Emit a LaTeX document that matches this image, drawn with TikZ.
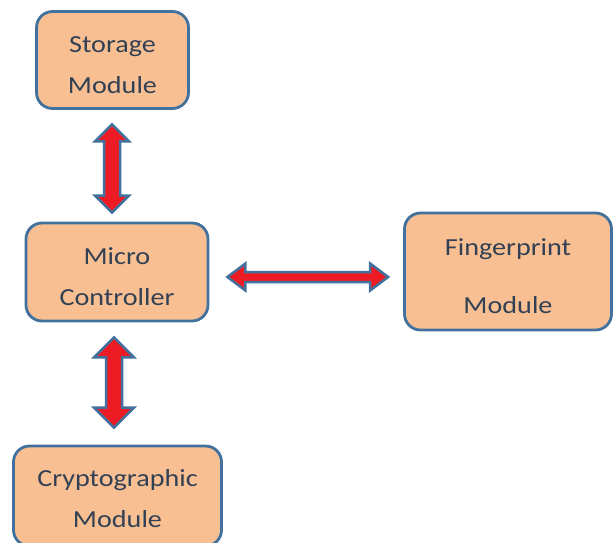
\documentclass[tikz,border=0pt]{standalone}
\usepackage{fontspec}
\setmainfont{Carlito}[FakeStretch=1.15]
\usetikzlibrary{calc}
\definecolor{boxfill}{RGB}{248,192,146}
\definecolor{boxline}{RGB}{65,113,156}
\definecolor{txt}{RGB}{50,64,84}
\definecolor{arrred}{RGB}{237,28,36}
\newcommand\vdbl[5]{% top, bottom, shaft half, head half, head length
 \draw[dblarr] let \p1=(#1), \p2=(#2) in
 (\x1,\y1) -- (\x1+#4pt,\y1-#5pt) -- (\x1+#3pt,\y1-#5pt) -- (\x1+#3pt,\y2+#5pt) -- (\x1+#4pt,\y2+#5pt) -- (\x1,\y2)
 -- (\x1-#4pt,\y2+#5pt) -- (\x1-#3pt,\y2+#5pt) -- (\x1-#3pt,\y1-#5pt) -- (\x1-#4pt,\y1-#5pt) -- cycle;}
\newcommand\hdbl[5]{% left, right, shaft half, head half, head length
 \draw[dblarr] let \p1=(#1), \p2=(#2) in
 (\x1,\y1) -- (\x1+#5pt,\y1+#4pt) -- (\x1+#5pt,\y1+#3pt) -- (\x2-#5pt,\y1+#3pt) -- (\x2-#5pt,\y1+#4pt) -- (\x2,\y1)
 -- (\x2-#5pt,\y1-#4pt) -- (\x2-#5pt,\y1-#3pt) -- (\x1+#5pt,\y1-#3pt) -- (\x1+#5pt,\y1-#4pt) -- cycle;}
\begin{document}
\begin{tikzpicture}[x=1pt,y=-1pt,
 box/.style={draw=boxline, line width=2.8pt, fill=boxfill, rounded corners=16pt, inner sep=0pt},
 lbl/.style={text=txt, align=center, inner sep=0pt, yshift=-5pt, font=\fontsize{24.5}{41}\selectfont},
 dblarr/.style={draw=boxline, line width=2.5pt, fill=arrred, line join=miter}]
\useasboundingbox (0,0) rectangle (614,542);
\begin{scope}
\clip (0,0) rectangle (614,542);
\node[box, minimum width=152pt, minimum height=97pt, label={[lbl]center:Storage\\Module}] (stor) at (112.5,60) {};
\node[box, minimum width=182pt, minimum height=98pt, label={[lbl]center:Micro\\Controller}] (mc) at (117,272) {};
\node[box, minimum width=207pt, minimum height=117pt, label={[lbl, font=\fontsize{24.5}{58}\selectfont]center:Fingerprint\\Module}] (fp) at (508,271.5) {};
\node[box, minimum width=208pt, minimum height=100pt, label={[lbl, yshift=2pt]center:Cryptographic\\Module}] (cr) at (117.5,496) {};
\coordinate (a1) at ($(stor.south)+(-0.5,14.5)$);
\coordinate (a2) at ($(mc.north)+(0,-9)$);
\coordinate (b1) at ($(mc.south)+(-3,15)$);
\coordinate (b2) at ($(cr.north)+(0,-17)$);
\coordinate (c1) at ($(mc.east)+(18,5)$);
\coordinate (c2) at ($(fp.west)+(-15,5)$);
\vdbl{a1}{a2}{8}{17}{17}
\vdbl{b1}{b2}{8}{20}{20}
\hdbl{c1}{c2}{5}{13.5}{18}
\end{scope}
\end{tikzpicture}
\end{document}
